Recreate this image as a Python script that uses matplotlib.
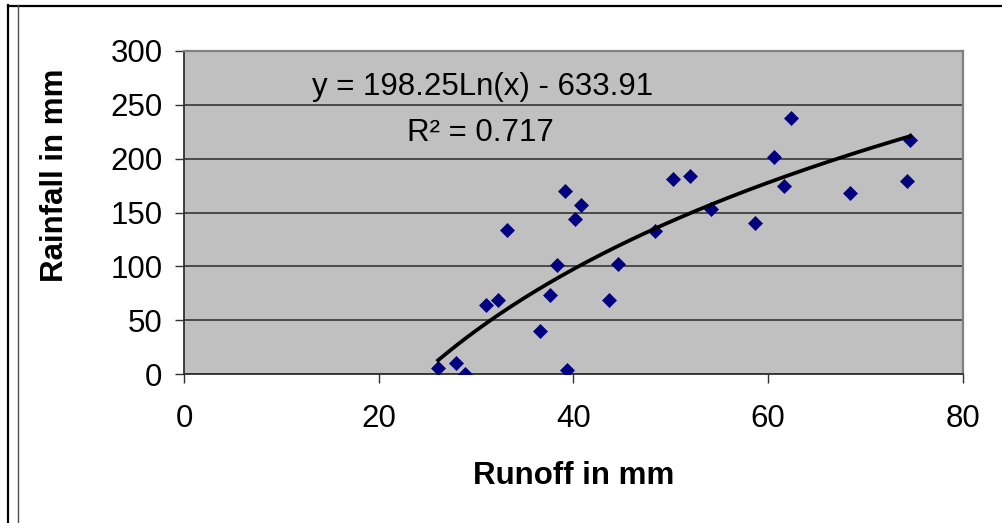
import numpy as np
import matplotlib
matplotlib.use("Agg")
import matplotlib.pyplot as plt
from matplotlib.lines import Line2D

# ---- data ----
runoff = [26.1, 27.9, 28.9, 31.0, 32.2, 33.2, 36.6, 37.6, 38.3, 39.1, 39.3,
          40.2, 40.8, 43.6, 44.6, 48.4, 50.2, 52.0, 54.1, 58.6, 60.6, 61.6,
          62.3, 68.4, 74.2, 74.6]
rainfall = [6, 10, 0, 64, 69, 134, 40, 73, 101, 170, 4,
            144, 157, 69, 102, 133, 181, 184, 153, 140, 202, 175,
            238, 168, 179, 217]
coef_a = 198.25
coef_b = -633.91
r_squared = 0.717
x_ticks = [0, 20, 40, 60, 80]
y_ticks = [0, 50, 100, 150, 200, 250, 300]

plt.rcParams['font.family'] = ['Liberation Sans', 'DejaVu Sans']

W, H = 1003, 523
fig = plt.figure(figsize=(W / 100, H / 100), dpi=100)
fig.patch.set_facecolor('white')

L, R, T, B = 184, 963, 51, 374
ax = fig.add_axes([L / W, 1 - B / H, (R - L) / W, (B - T) / H])
ax.set_facecolor('#C0C0C0')
ax.set_xlim(0, 80)
ax.set_ylim(0, 300)
ax.set_xticks(x_ticks)
ax.set_yticks(y_ticks)
ax.grid(axis='y', color='#404040', linewidth=1.3, zorder=1)
ax.set_axisbelow(True)

for s in ['top', 'right']:
    ax.spines[s].set_color('#808080')
    ax.spines[s].set_linewidth(1.6)
for s in ['left', 'bottom']:
    ax.spines[s].set_color('#303030')
    ax.spines[s].set_linewidth(1.3)

ax.tick_params(axis='both', direction='out', length=6.5, width=1.0,
               color='#303030', labelsize=22.5, labelcolor='black')
ax.tick_params(axis='x', pad=15)
ax.tick_params(axis='y', pad=9)

ax.plot(runoff, rainfall, linestyle='none', marker='D', markersize=7.6,
        color='#000080', markeredgecolor='#000080', markeredgewidth=0.5,
        zorder=3)

xs = np.linspace(min(runoff), max(runoff), 200)
ax.plot(xs, coef_a * np.log(xs) + coef_b, color='black', linewidth=2.7, zorder=4)

ax.text(0.383, 0.889, f"y = {coef_a:.2f}Ln(x) - {abs(coef_b):.2f}",
        transform=ax.transAxes, ha='center', va='center', fontsize=22.5)
ax.text(0.380, 0.746, f"R\u00b2 = {r_squared:.3f}",
        transform=ax.transAxes, ha='center', va='center', fontsize=22.5)

fig.text(574 / W, 1 - 476 / H, "Runoff in mm", ha='center', va='center',
         fontsize=22.5, fontweight='bold')
fig.text(55 / W, 1 - 175 / H, "Rainfall in mm", ha='center', va='center',
         fontsize=22.5, fontweight='bold', rotation=90)

# outer frame lines
def px_line(x0, y0, x1, y1, color, lw):
    fig.add_artist(Line2D([x0 / W, x1 / W], [1 - y0 / H, 1 - y1 / H],
                          transform=fig.transFigure, color=color, linewidth=lw))

px_line(8, 5.5, W, 5.5, 'black', 1.6)
px_line(8.5, 5, 8.5, H, 'black', 1.6)
px_line(18.5, 5, 18.5, H, '#505050', 1.0)

fig.savefig('out.png', dpi=100)
